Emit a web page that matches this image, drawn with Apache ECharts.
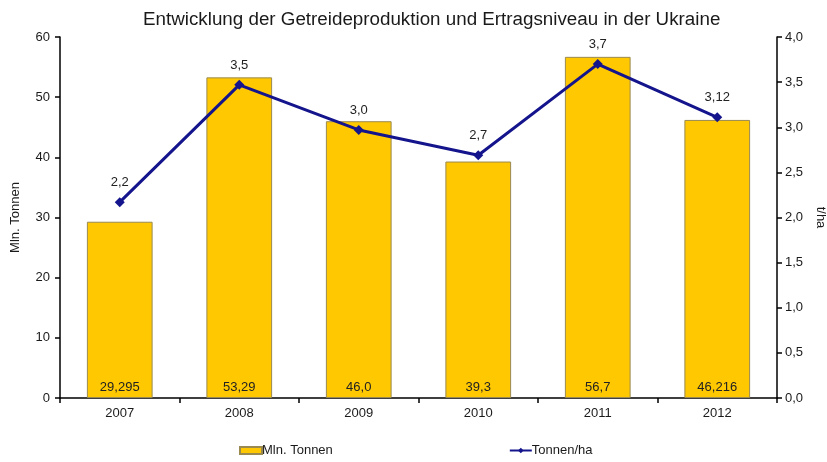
<!DOCTYPE html>
<html><head><meta charset="utf-8">
<script src="https://cdn.jsdelivr.net/npm/echarts@6/dist/echarts.min.js"></script>
<style>html,body{margin:0;padding:0;background:#fff}#c{width:827px;height:462px}</style>
</head><body><div id="c"></div>
<script>
const categories = ['2007','2008','2009','2010','2011','2012'];
const production = [29.295, 53.29, 46.0, 39.3, 56.7, 46.216];
const productionLabels = ['29,295','53,29','46,0','39,3','56,7','46,216'];
const yieldValues = [2.17, 3.47, 2.97, 2.69, 3.70, 3.11];
const yieldLabels = ['2,2','3,5','3,0','2,7','3,7','3,12'];
const leftTicks = [0,10,20,30,40,50,60];
const rightTicks = ['0,0','0,5','1,0','1,5','2,0','2,5','3,0','3,5','4,0'];

const font = 'Liberation Sans, Arial, sans-serif';
const chart = echarts.init(document.getElementById('c'));
chart.setOption({
  animation: false,
  textStyle: {fontFamily: font},
  title: {text: 'Entwicklung der Getreideproduktion und Ertragsniveau in der Ukraine', left: 138, top: 5,
    textStyle: {fontFamily: font, fontSize: 18.8, fontWeight: 'normal', color: '#1a1a1a'}},
  legend: {bottom: 0, left: 234, itemGap: 176, itemWidth: 22, itemHeight: 7,
    textStyle: {fontFamily: font, fontSize: 13, color: '#1a1a1a', padding: [0,0,0,-5]},
    data: [{name: 'Mln. Tonnen', icon: 'rect'}, {name: 'Tonnen/ha'}]},
  grid: {left: 60, right: 50, top: 37, bottom: 64, containLabel: false, outerBoundsMode: 'none'},
  xAxis: {type: 'category', data: categories,
    axisLine: {lineStyle: {color: '#000', width: 1.5}},
    axisTick: {show: true, length: 5, lineStyle: {color: '#000', width: 1.5}},
    axisLabel: {fontFamily: font, fontSize: 13, color: '#1a1a1a', margin: 9}},
  yAxis: [
    {type: 'value', min: 0, max: 60, interval: 10, name: 'Mln. Tonnen', nameLocation: 'middle', nameGap: 38,
      nameTextStyle: {fontFamily: font, fontSize: 13, color: '#1a1a1a'},
      axisLine: {show: true, lineStyle: {color: '#000', width: 1.5}},
      axisTick: {show: true, length: 5, lineStyle: {color: '#000', width: 1.5}},
      axisLabel: {fontFamily: font, fontSize: 13, color: '#1a1a1a', margin: 10,
        formatter: v => String(leftTicks[Math.round(v/10)])},
      splitLine: {show: false}},
    {type: 'value', min: 0, max: 4, interval: 0.5, name: 't/ha', nameLocation: 'middle', nameGap: 34, nameRotate: -90,
      nameTextStyle: {fontFamily: font, fontSize: 13, color: '#1a1a1a'},
      axisLine: {show: true, lineStyle: {color: '#000', width: 1.5}},
      axisTick: {show: true, length: 5, lineStyle: {color: '#000', width: 1.5}},
      axisLabel: {fontFamily: font, fontSize: 13, color: '#1a1a1a', margin: 8,
        formatter: v => rightTicks[Math.round(v/0.5)]},
      splitLine: {show: false}}
  ],
  series: [
    {name: 'Mln. Tonnen', type: 'bar', yAxisIndex: 0, data: production, barWidth: '55%',
      itemStyle: {color: '#FFC800', borderColor: '#9a8a50', borderWidth: 1},
      label: {show: true, position: 'insideBottom', distance: 4, fontFamily: font, fontSize: 13, color: '#222',
        formatter: p => productionLabels[p.dataIndex]}},
    {name: 'Tonnen/ha', type: 'line', yAxisIndex: 1, data: yieldValues, symbol: 'diamond', symbolSize: 10,
      lineStyle: {color: '#14148c', width: 3}, itemStyle: {color: '#14148c'},
      label: {show: true, position: 'top', distance: 8, fontFamily: font, fontSize: 13, color: '#222',
        formatter: p => yieldLabels[p.dataIndex]}}
  ]
});
</script></body></html>
